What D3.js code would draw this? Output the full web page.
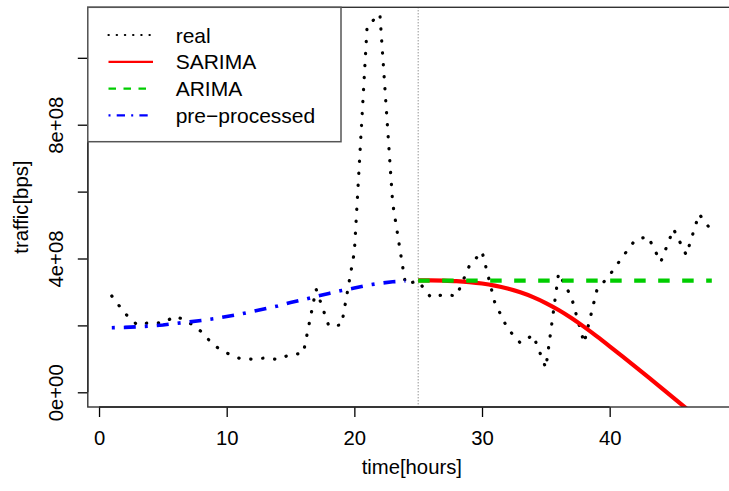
<!DOCTYPE html>
<html>
<head>
<meta charset="utf-8">
<script src="https://cdn.jsdelivr.net/npm/d3@7"></script>
<style>
  html, body { margin: 0; padding: 0; background: #ffffff; }
  svg { display: block; font-family: "Liberation Sans", Arial, Helvetica, sans-serif; }
</style>
</head>
<body>
<svg id="chart" width="729" height="491"></svg>
<script>
// ---------------- data ----------------
const hoursReal = [1,2,3,4,5,6,7,8,9,10,11,12,13,14,15,16,17,18,19,20,21,22,23,24,
                   25,26,27,28,29,30,31,32,33,34,35,36,37,38,39,40,41,42,43,44,45,46,47,48];
const realTraffic = [2.879e8, 2.371e8, 2.012e8, 2.087e8, 2.072e8, 2.281e8, 2.102e8, 1.818e8,
                     1.399e8, 1.175e8, 1.016e8, 0.987e8, 1.025e8, 0.981e8, 1.130e8, 1.166e8,
                     3.088e8, 1.982e8, 2.012e8, 4.194e8, 10.951e8, 11.309e8, 5.659e8, 3.238e8,
                     3.327e8, 2.834e8, 2.924e8, 2.879e8, 3.776e8, 4.209e8, 2.685e8, 1.907e8,
                     1.474e8, 1.713e8, 0.726e8, 3.567e8, 2.849e8, 1.474e8, 3.058e8, 3.507e8,
                     4.045e8, 4.553e8, 4.658e8, 3.895e8, 4.882e8, 4.105e8, 5.330e8, 4.822e8];

const hoursPre = [1,2,3,4,5,6,7,8,9,10,11,12,13,14,15,16,17,18,19,20,21,22,23,24];
const preProcessed = [1.931e8, 1.940e8, 1.958e8, 1.982e8, 2.012e8, 2.057e8, 2.102e8, 2.149e8,
                      2.200e8, 2.266e8, 2.332e8, 2.416e8, 2.499e8, 2.580e8, 2.682e8, 2.771e8,
                      2.864e8, 2.954e8, 3.043e8, 3.118e8, 3.199e8, 3.259e8, 3.303e8, 3.327e8];

const hoursForecast = [25,26,27,28,29,30,31,32,33,34,35,36,37,38,39,40,41,42,43,44,45,46,47,48];
const sarimaForecast = [3.348e8, 3.345e8, 3.336e8, 3.321e8, 3.294e8, 3.252e8, 3.190e8, 3.103e8,
                        2.989e8, 2.846e8, 2.669e8, 2.460e8, 2.221e8, 1.955e8, 1.671e8, 1.375e8,
                        1.073e8, 0.768e8, 0.460e8, 0.149e8, -0.165e8, -0.482e8, -0.802e8, -1.125e8];
const arimaForecast = [3.336e8, 3.336e8, 3.336e8, 3.336e8, 3.336e8, 3.336e8, 3.336e8, 3.336e8,
                       3.336e8, 3.336e8, 3.336e8, 3.336e8, 3.336e8, 3.336e8, 3.336e8, 3.336e8,
                       3.336e8, 3.336e8, 3.336e8, 3.336e8, 3.336e8, 3.336e8, 3.336e8, 3.336e8];

const forecastStart = 25;
const xTicks = [0, 10, 20, 30, 40];
const yTicks = [0, 2e8, 4e8, 6e8, 8e8, 1e9];
const yTickLabels = {0: "0e+00", 400000000: "4e+08", 800000000: "8e+08"};
const legendLabels = ["real", "SARIMA", "ARIMA", "pre\u2212processed"];
const xTitle = "time[hours]";
const yTitle = "traffic[bps]";

// ---------------- layout ----------------
const plot = {left: 87.8, right: 735.8, top: 7.3, bottom: 407};
const svg = d3.select("#chart");
const FONT = 20.3;
const LEGEND_FONT = 21;

const x = d3.scaleLinear().domain([-0.88, 49.88]).range([plot.left, plot.right]);
const y = d3.scaleLinear().domain([-0.04395e9, 1.151e9]).range([plot.bottom, plot.top]);

svg.append("defs").append("clipPath").attr("id", "clip")
  .append("rect")
  .attr("x", plot.left).attr("y", plot.top)
  .attr("width", plot.right - plot.left).attr("height", plot.bottom - plot.top);

const gPlot = svg.append("g").attr("clip-path", "url(#clip)");

const line = (xs, ys, curve) => d3.line().curve(curve || d3.curveLinear)
  .x((d, i) => x(xs[i])).y(d => y(d))(ys);

// vertical dotted line marking forecast start
gPlot.append("line")
  .attr("x1", x(forecastStart)).attr("x2", x(forecastStart))
  .attr("y1", plot.top).attr("y2", plot.bottom)
  .attr("stroke", "#666").attr("stroke-width", 1)
  .attr("stroke-dasharray", "1,2");

// real (dotted)
gPlot.append("path")
  .attr("d", line(hoursReal, realTraffic))
  .attr("fill", "none").attr("stroke", "#000")
  .attr("stroke-width", 3.2).attr("stroke-linecap", "round")
  .attr("stroke-dasharray", "0.3,11.7");

// pre-processed (dot-dash, blue)
gPlot.append("path")
  .attr("d", line(hoursPre, preProcessed))
  .attr("fill", "none").attr("stroke", "#0000ff")
  .attr("stroke-width", 3.6)
  .attr("stroke-dasharray", "3,9,12,9");

// SARIMA (solid red)
gPlot.append("path")
  .attr("d", line(hoursForecast, sarimaForecast, d3.curveMonotoneX))
  .attr("fill", "none").attr("stroke", "#ff0000")
  .attr("stroke-width", 4.2);

// ARIMA (dashed green)
gPlot.append("path")
  .attr("d", line(hoursForecast, arimaForecast))
  .attr("fill", "none").attr("stroke", "#00cd00")
  .attr("stroke-width", 4.2)
  .attr("stroke-dasharray", "11.5,12.5");

// ---------------- axes ----------------
const xAxis = d3.axisBottom(x).tickValues(xTicks).tickSize(10).tickSizeOuter(0).tickFormat(d3.format("d"));
const gx = svg.append("g").attr("transform", `translate(0,${plot.bottom})`).call(xAxis);
gx.select(".domain").remove();
gx.selectAll(".tick line").attr("stroke", "#000").attr("stroke-width", 1.3);
gx.selectAll(".tick text")
  .attr("y", 37.5).attr("dy", null)
  .attr("font-size", FONT).attr("font-family", null).attr("fill", "#000");
gx.append("line")
  .attr("x1", x(xTicks[0])).attr("x2", x(xTicks[xTicks.length - 1]))
  .attr("y1", 0).attr("y2", 0)
  .attr("stroke", "#000").attr("stroke-width", 1.3);

const yAxis = d3.axisLeft(y).tickValues(yTicks).tickSize(10).tickSizeOuter(0)
  .tickFormat(d => yTickLabels[d] || "");
const gy = svg.append("g").attr("transform", `translate(${plot.left},0)`).call(yAxis);
gy.select(".domain").remove();
gy.selectAll(".tick line").attr("stroke", "#000").attr("stroke-width", 1.3);
gy.selectAll(".tick text")
  .attr("x", null).attr("dy", null)
  .attr("text-anchor", "middle")
  .attr("transform", "translate(-24.8,0) rotate(-90)")
  .attr("font-size", FONT).attr("font-family", null).attr("fill", "#000");
gy.append("line")
  .attr("x1", 0).attr("x2", 0)
  .attr("y1", y(yTicks[0])).attr("y2", y(yTicks[yTicks.length - 1]))
  .attr("stroke", "#000").attr("stroke-width", 1.3);

// plot box
svg.append("rect")
  .attr("x", plot.left).attr("y", plot.top)
  .attr("width", plot.right - plot.left).attr("height", plot.bottom - plot.top)
  .attr("fill", "none").attr("stroke", "#333").attr("stroke-width", 1.4);

// axis titles
svg.append("text")
  .attr("x", (plot.left + plot.right) / 2).attr("y", 474)
  .attr("text-anchor", "middle").attr("font-size", FONT).attr("fill", "#000")
  .text(xTitle);
svg.append("text")
  .attr("transform", `translate(28,${(plot.top + plot.bottom) / 2}) rotate(-90)`)
  .attr("text-anchor", "middle").attr("font-size", FONT).attr("fill", "#000")
  .text(yTitle);

// ---------------- legend ----------------
const legend = svg.append("g");
legend.append("rect")
  .attr("x", plot.left).attr("y", plot.top)
  .attr("width", 341 - plot.left).attr("height", 141.7 - plot.top)
  .attr("fill", "#fff").attr("stroke", "#555").attr("stroke-width", 1.5);

const legendStyles = [
  {stroke: "#000", width: 2.2, dash: "0.3,7.9", cap: "round"},
  {stroke: "#ff0000", width: 2.2, dash: null, cap: "butt"},
  {stroke: "#00cd00", width: 2.2, dash: "7.5,7.5", cap: "butt"},
  {stroke: "#0000ff", width: 2.2, dash: "2,6.2,8.3,6.2", cap: "butt"}
];
const rowY = [35, 61.8, 88.6, 115.4];
legendLabels.forEach((lab, i) => {
  const st = legendStyles[i];
  legend.append("line")
    .attr("x1", 108.5).attr("x2", 153).attr("y1", rowY[i]).attr("y2", rowY[i])
    .attr("stroke", st.stroke).attr("stroke-width", st.width)
    .attr("stroke-linecap", st.cap)
    .attr("stroke-dasharray", st.dash);
  legend.append("text")
    .attr("x", 175.7).attr("y", rowY[i]).attr("dy", "0.36em")
    .attr("font-size", LEGEND_FONT).attr("fill", "#000")
    .text(lab);
});
</script>
</body>
</html>
